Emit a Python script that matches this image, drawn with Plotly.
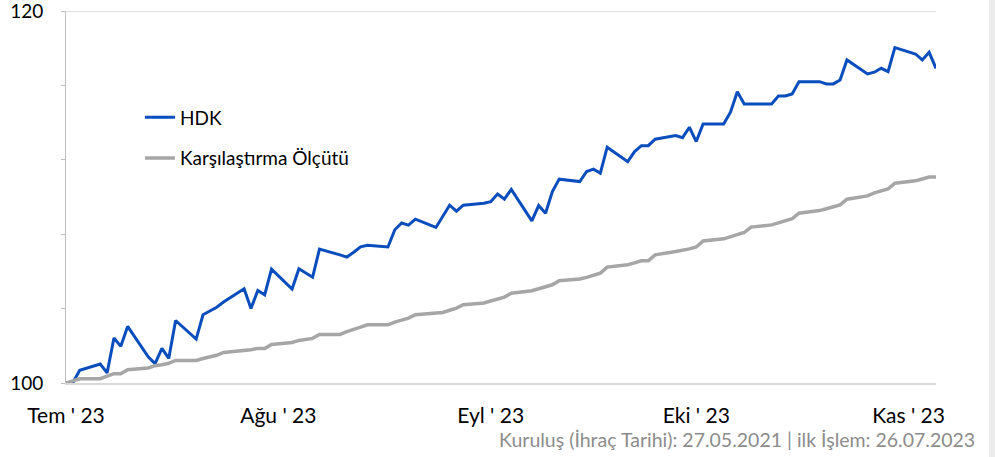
import plotly.graph_objects as go

# ============================================
# Veri
# ============================================

dates = [
    "2023-07-26", "2023-07-27", "2023-07-28", "2023-07-31", "2023-08-01", "2023-08-02",
    "2023-08-03", "2023-08-04", "2023-08-07", "2023-08-08", "2023-08-09", "2023-08-10",
    "2023-08-11", "2023-08-14", "2023-08-15", "2023-08-16", "2023-08-17", "2023-08-18",
    "2023-08-21", "2023-08-22", "2023-08-23", "2023-08-24", "2023-08-25", "2023-08-28",
    "2023-08-29", "2023-08-31", "2023-09-01", "2023-09-04", "2023-09-05", "2023-09-06",
    "2023-09-07", "2023-09-08", "2023-09-11", "2023-09-12", "2023-09-13", "2023-09-14",
    "2023-09-15", "2023-09-18", "2023-09-19", "2023-09-20", "2023-09-21", "2023-09-22",
    "2023-09-25", "2023-09-26", "2023-09-27", "2023-09-28", "2023-09-29", "2023-10-02",
    "2023-10-03", "2023-10-04", "2023-10-05", "2023-10-06", "2023-10-09", "2023-10-10",
    "2023-10-11", "2023-10-12", "2023-10-13", "2023-10-16", "2023-10-17", "2023-10-18",
    "2023-10-19", "2023-10-20", "2023-10-23", "2023-10-24", "2023-10-25", "2023-10-26",
    "2023-10-27", "2023-10-30", "2023-10-31", "2023-11-01", "2023-11-02", "2023-11-03",
    "2023-11-06", "2023-11-07", "2023-11-08", "2023-11-09", "2023-11-10", "2023-11-13",
    "2023-11-14", "2023-11-15", "2023-11-16", "2023-11-17", "2023-11-20", "2023-11-21",
    "2023-11-22", "2023-11-23", "2023-11-24", "2023-11-27", "2023-11-28", "2023-11-29",
    "2023-11-30",
]

hdk = [
    100.00, 100.02, 100.68, 101.02, 100.54, 102.42,
    101.97, 103.04, 101.41, 101.04, 101.86, 101.32,
    103.36, 102.36, 103.67, 103.86, 104.07, 104.35,
    105.07, 104.01, 104.97, 104.74, 106.12, 105.05,
    106.14, 105.69, 107.20, 106.89, 106.77, 107.03,
    107.32, 107.40, 107.31, 108.24, 108.60, 108.49,
    108.81, 108.36, 108.96, 109.56, 109.24, 109.56,
    109.66, 109.75, 110.16, 109.88, 110.41, 108.72,
    109.54, 109.13, 110.29, 110.96, 110.83, 111.37,
    111.50, 111.28, 112.68, 111.90, 112.44, 112.76,
    112.76, 113.11, 113.30, 113.19, 113.75, 112.98,
    113.93, 113.93, 114.56, 115.66, 115.00, 115.00,
    115.00, 115.43, 115.43, 115.54, 116.20, 116.20,
    116.08, 116.08, 116.29, 117.37, 116.62, 116.71,
    116.92, 116.74, 118.03, 117.69, 117.37, 117.78,
    116.92,
]

olcut = [
    100.00, 100.12, 100.23, 100.23, 100.37, 100.50,
    100.50, 100.71, 100.81, 100.93, 100.98, 101.06,
    101.21, 101.21, 101.32, 101.39, 101.49, 101.64,
    101.72, 101.79, 101.86, 101.86, 102.07, 102.18,
    102.29, 102.40, 102.61, 102.61, 102.76, 102.86,
    103.00, 103.13, 103.13, 103.27, 103.37, 103.49,
    103.67, 103.75, 103.79, 103.91, 104.03, 104.21,
    104.30, 104.41, 104.51, 104.62, 104.83, 104.96,
    105.07, 105.16, 105.28, 105.50, 105.59, 105.68,
    105.79, 105.91, 106.23, 106.36, 106.46, 106.57,
    106.57, 106.89, 107.07, 107.13, 107.21, 107.31,
    107.64, 107.75, 107.86, 107.97, 108.09, 108.38,
    108.50, 108.61, 108.72, 108.83, 109.13, 109.27,
    109.37, 109.47, 109.58, 109.88, 110.06, 110.22,
    110.33, 110.44, 110.74, 110.87, 110.97, 111.07,
    111.07,
]

x_tick_dates = ["2023-07-26", "2023-08-26", "2023-09-26", "2023-10-26", "2023-11-26"]
x_tick_labels = ["Tem ' 23", "Ağu ' 23", "Eyl ' 23", "Eki ' 23", "Kas ' 23"]

y_tick_vals = [100, 104, 108, 112, 116, 120]
y_tick_labels = ["100", "", "", "", "", "120"]

FONT = "Lato, 'Open Sans', sans-serif"
BLUE = "#0a4dbd"
GREY = "#a6a6a6"

fig = go.Figure()

fig.add_trace(go.Scatter(
    x=dates, y=hdk,
    mode="lines",
    name="HDK",
    legendgroup="a",
    line=dict(color=BLUE, width=3),
))

fig.add_trace(go.Scatter(
    x=dates, y=olcut,
    mode="lines",
    name="Karşılaştırma Ölçütü",
    legendgroup="b",
    line=dict(color=GREY, width=3.5),
))

fig.update_layout(
    width=995,
    height=457,
    margin=dict(l=66, r=59, t=11, b=74, autoexpand=False),
    paper_bgcolor="white",
    plot_bgcolor="white",
    font=dict(family=FONT, color="#000000"),
    showlegend=True,
    legend=dict(
        x=0.085, y=0.765,
        xanchor="left", yanchor="top",
        bgcolor="rgba(0,0,0,0)",
        font=dict(size=19, color="#000000"),
        tracegroupgap=13,
        traceorder="grouped",
    ),
    annotations=[dict(
        text="Kuruluş (İhraç Tarihi): 27.05.2021 | ilk İşlem: 26.07.2023",
        xref="paper", yref="paper",
        x=1.047, y=-0.152,
        xanchor="right", yanchor="middle",
        showarrow=False,
        font=dict(size=19.5, color="#8c8c8c", family=FONT),
    )],
    shapes=[dict(
        type="rect", xref="paper", yref="paper",
        x0=1.061, x1=1.07, y0=-0.2, y1=1.04,
        fillcolor="#ececec", line=dict(width=0), layer="below",
    )],
)

fig.update_xaxes(
    type="date",
    range=["2023-07-26", "2023-11-30"],
    tickvals=x_tick_dates,
    ticktext=x_tick_labels,
    tickfont=dict(size=21, color="#000000"),
    showgrid=False,
    showline=True,
    linecolor="#d9d9d9",
    linewidth=1.5,
    ticks="",
    ticklabelstandoff=13,
    zeroline=False,
    automargin=False,
)

fig.update_yaxes(
    range=[100, 120],
    tickvals=y_tick_vals,
    ticktext=y_tick_labels,
    tickfont=dict(size=19, color="#000000"),
    showgrid=False,
    showline=True,
    linecolor="#bfbfbf",
    linewidth=1,
    ticks="outside",
    ticklen=4,
    tickcolor="#bfbfbf",
    ticklabelstandoff=14,
    ticklabeloverflow="allow",
    zeroline=False,
    automargin=False,
)

# Üst kılavuz çizgisi (120 seviyesi)
fig.add_hline(y=120, line=dict(color="#d9d9d9", width=1.5))

# Sayfa kenar boşluğunu kaldır, grafik 0,0'dan başlasın
fig.write_html(
    "out.html",
    config={"displayModeBar": False},
    post_script="document.body.style.margin='0';",
)
